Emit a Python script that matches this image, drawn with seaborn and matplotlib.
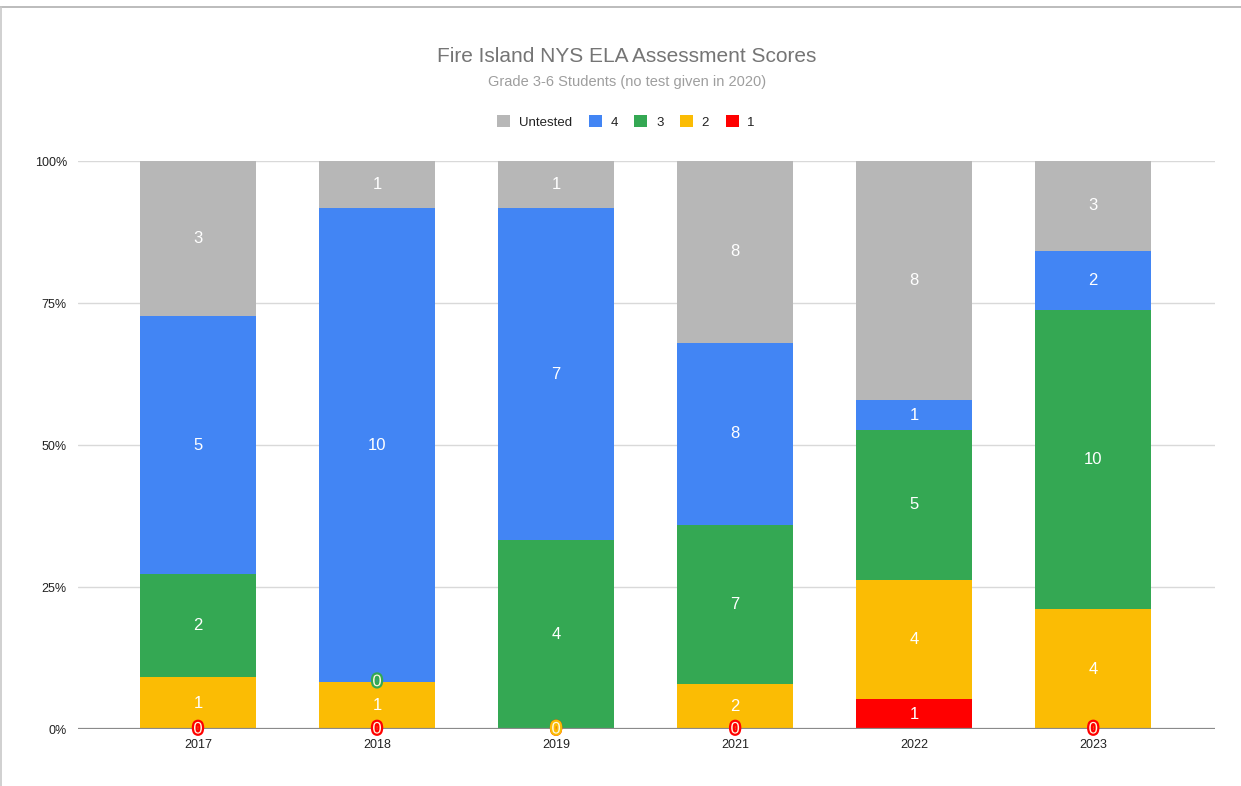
import matplotlib
matplotlib.use("Agg")
import matplotlib.pyplot as plt
import matplotlib.patheffects as pe
from matplotlib.patches import Patch
from matplotlib.lines import Line2D
import numpy as np
import seaborn as sns

years = ["2017", "2018", "2019", "2021", "2022", "2023"]
level1 = [0, 0, 0, 0, 1, 0]
level2 = [1, 1, 0, 2, 4, 4]
level3 = [2, 0, 4, 7, 5, 10]
level4 = [5, 10, 7, 8, 1, 2]
untested = [3, 1, 1, 8, 8, 3]

series_names = ["1", "2", "3", "4", "Untested"]
series_vals = [level1, level2, level3, level4, untested]
series_colors = ["#ff0000", "#fbbc04", "#34a853", "#4285f4", "#b7b7b7"]

title = "Fire Island NYS ELA Assessment Scores"
subtitle = "Grade 3-6 Students (no test given in 2020)"
ytick_vals = [0, 0.25, 0.5, 0.75, 1.0]
ytick_labels = ["0%", "25%", "50%", "75%", "100%"]

sns.set_theme(style="white")
plt.rcParams["font.family"] = ["Liberation Sans", "DejaVu Sans"]

W, H = 1241, 786
fig = plt.figure(figsize=(W / 100, H / 100), dpi=100)
fig.patch.set_facecolor("white")
ax = fig.add_axes([78 / W, 1 - 729 / H, (1215 - 78) / W, (729 - 161) / H])

vals = np.array(series_vals, dtype=float)
totals = vals.sum(axis=0)
fracs = vals / totals
cum = np.cumsum(fracs, axis=0)

# grid lines
for yv in ytick_vals[1:]:
    ax.axhline(yv, color="#d9d9d9", lw=1, zorder=0)

bw = 0.648
# draw cumulative bars from top series down
for i in range(len(series_names) - 1, -1, -1):
    sns.barplot(x=years, y=cum[i], color=series_colors[i], saturation=1,
                width=bw, linewidth=0, edgecolor="none", ax=ax, zorder=2)

ax.axhline(0, color="#8a8a8a", lw=1.6, zorder=3)

# labels
for i, name in enumerate(series_names):
    for j in range(len(years)):
        v = vals[i, j]
        lo = cum[i, j] - fracs[i, j]
        mid = lo + fracs[i, j] / 2
        if v > 0:
            ax.text(j, mid, f"{int(v)}", ha="center", va="center", color="white",
                    fontsize=12, zorder=5)
        else:
            t = ax.text(j, mid, "0", ha="center", va="center", color="#fff8e0",
                        fontsize=12, zorder=6)
            t.set_path_effects([pe.Stroke(linewidth=3.2, foreground=series_colors[i]),
                                pe.Normal()])

ax.set_xlim(-0.67, 5.68)
ax.set_ylim(0, 1)
ax.set_yticks(ytick_vals)
ax.set_yticklabels(ytick_labels)
ax.tick_params(axis="y", length=0, pad=8, labelsize=9, labelcolor="#222222")
ax.tick_params(axis="x", length=0, pad=7, labelsize=9, labelcolor="#222222")
ax.set_xlabel("")
ax.set_ylabel("")
for s in ax.spines.values():
    s.set_visible(False)
ax.set_facecolor("white")

fig.text(627 / W, 1 - 57 / H, title, ha="center", va="center", fontsize=15,
         color="#757575")
fig.text(627 / W, 1 - 82 / H, subtitle, ha="center", va="center", fontsize=10.5,
         color="#9e9e9e")

handles = [Patch(facecolor=series_colors[i], edgecolor="none") for i in [4, 3, 2, 1, 0]]
labels = [series_names[i] for i in [4, 3, 2, 1, 0]]
leg = fig.legend(handles, labels, loc="center", bbox_to_anchor=(626 / W, 1 - 122 / H),
                 ncol=5, frameon=False, fontsize=9.5, handlelength=1.0,
                 handleheight=1.0, handletextpad=0.65, columnspacing=1.25)
for t in leg.get_texts():
    t.set_color("#222222")

# screenshot border lines
fig.add_artist(Line2D([0, 1], [1 - 7 / H, 1 - 7 / H], transform=fig.transFigure,
                      color="#b0b0b0", lw=1.2))
fig.add_artist(Line2D([1.2 / W, 1.2 / W], [0, 1 - 7 / H], transform=fig.transFigure,
                      color="#c8c8c8", lw=1.2))

fig.savefig("out.png", dpi=100, facecolor="white")
